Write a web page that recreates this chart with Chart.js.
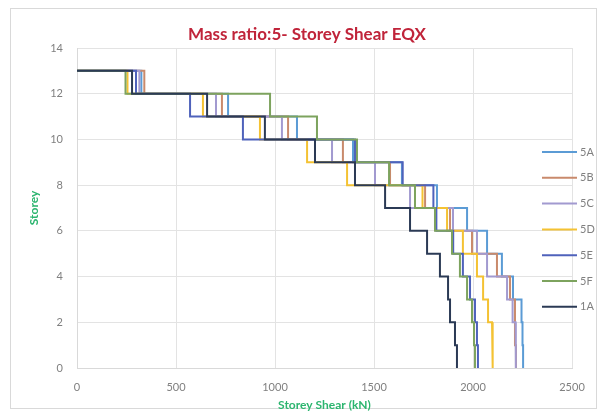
<!DOCTYPE html>
<html>
<head>
<meta charset="utf-8">
<script src="https://cdn.jsdelivr.net/npm/chart.js@4.4.1/dist/chart.umd.min.js"></script>
<style>
  html, body { margin: 0; padding: 0; background: #fff; }
  #chart { display: block; }
</style>
</head>
<body>
<canvas id="chart" width="600" height="412"></canvas>
<script>
// storey numbers, bottom to top
const storeys = [1, 2, 3, 4, 5, 6, 7, 8, 9, 10, 11, 12, 13];
const seriesNames = ["5A", "5B", "5C", "5D", "5E", "5F", "1A"];
const seriesColors = ["#5b9bd5", "#c98a6c", "#a29ad0", "#f4c233", "#4f62bb", "#7da35e", "#2b3a55"];

// storey shear (kN) for storey 1 .. 13
const shear5A = [2253, 2250, 2245, 2202, 2146, 2071, 1970, 1818, 1641, 1394, 1111, 763, 325];
const shear5B = [2217, 2212, 2212, 2187, 2121, 1995, 1884, 1758, 1581, 1343, 1066, 732, 340];
const shear5C = [2217, 2215, 2200, 2172, 2071, 2020, 1899, 1682, 1505, 1288, 1035, 702, 315];
const shear5D = [2101, 2096, 2076, 2051, 2020, 1949, 1869, 1745, 1364, 1162, 924, 636, 255];
const shear5E = [2025, 2020, 2010, 1985, 1949, 1900, 1815, 1800, 1645, 1404, 838, 571, 298];
const shear5F = [2010, 2005, 1995, 1970, 1934, 1894, 1808, 1707, 1576, 1414, 1212, 975, 245];
const shear1A = [1919, 1909, 1884, 1874, 1833, 1768, 1682, 1556, 1404, 1202, 949, 657, 278];
const allShear = [shear5A, shear5B, shear5C, shear5D, shear5E, shear5F, shear1A];

const xTicks = [0, 500, 1000, 1500, 2000, 2500];
const yTicks = [0, 2, 4, 6, 8, 10, 12, 14];

// step line: shear of storey i is constant between level i and level i-1
function stepPoints(v) {
  const top = storeys[storeys.length - 1];
  const pts = [{ x: 0, y: top }];
  for (let i = storeys.length - 1; i >= 0; i--) {
    pts.push({ x: v[i], y: storeys[i] });
    pts.push({ x: v[i], y: storeys[i] - 1 });
  }
  return pts;
}

const datasets = seriesNames.map((name, i) => ({
  label: name,
  data: stepPoints(allShear[i]),
  borderColor: seriesColors[i],
  backgroundColor: seriesColors[i],
  borderWidth: 2,
  showLine: true,
  pointRadius: 0,
  tension: 0,
  order: seriesNames.length - i,
}));

const frame = {
  id: "frame",
  beforeDraw(chart) {
    const ctx = chart.ctx;
    ctx.save();
    ctx.fillStyle = "#fff";
    ctx.fillRect(0, 0, chart.width, chart.height);
    ctx.strokeStyle = "#d9d9d9";
    ctx.lineWidth = 1;
    ctx.strokeRect(10.5, 8.5, 586, 400);
    ctx.restore();
  },
  afterDraw(chart) {
    const ctx = chart.ctx;
    ctx.save();
    // title
    ctx.fillStyle = "#c0243a";
    ctx.font = "bold 17px Lato";
    ctx.textAlign = "center";
    ctx.textBaseline = "middle";
    ctx.fillText("Mass ratio:5- Storey Shear EQX", 307, 35);
    // legend
    ctx.font = "11px Lato";
    ctx.textAlign = "left";
    seriesNames.forEach((name, i) => {
      const y = 152 + i * 25.8;
      ctx.strokeStyle = seriesColors[i];
      ctx.lineWidth = 2;
      ctx.beginPath();
      ctx.moveTo(542, y);
      ctx.lineTo(577, y);
      ctx.stroke();
      ctx.fillStyle = "#808080";
      ctx.fillText(name, 580, y);
    });
    ctx.restore();
  },
};

new Chart(document.getElementById("chart"), {
  type: "scatter",
  data: { datasets },
  plugins: [frame],
  options: {
    responsive: false,
    animation: false,
    devicePixelRatio: 1,
    layout: { padding: { left: 22, right: 28, top: 48, bottom: 0 } },
    plugins: {
      legend: { display: false },
      title: { display: false },
      tooltip: { enabled: false },
    },
    scales: {
      x: {
        type: "linear",
        min: 0,
        max: 2500,
        afterBuildTicks: (s) => { s.ticks = xTicks.map((v) => ({ value: v })); },
        afterFit: (s) => { s.height = 44; },
        grid: { color: "#e3e3e3", drawTicks: false },
        border: { color: "#d9d9d9" },
        ticks: {
          color: "#808080",
          font: { family: "Lato", size: 11 },
          padding: 13,
          callback: (v) => String(v),
        },
        title: {
          display: true,
          text: "Storey Shear (kN)",
          color: "#2cb56f",
          font: { family: "Lato", size: 12, weight: "bold" },
          padding: { top: 0, bottom: 0 },
        },
      },
      y: {
        type: "linear",
        min: 0,
        max: 14,
        afterBuildTicks: (s) => { s.ticks = yTicks.map((v) => ({ value: v })); },
        afterFit: (s) => { s.width = 55; },
        grid: { color: "#e3e3e3", drawTicks: false },
        border: { color: "#d9d9d9" },
        ticks: {
          color: "#808080",
          font: { family: "Lato", size: 11 },
          padding: 14,
          callback: (v) => String(v),
        },
        title: {
          display: true,
          text: "Storey",
          color: "#2cb56f",
          font: { family: "Lato", size: 12, weight: "bold" },
          padding: { top: 5, bottom: 0 },
        },
      },
    },
  },
});
</script>
</body>
</html>
